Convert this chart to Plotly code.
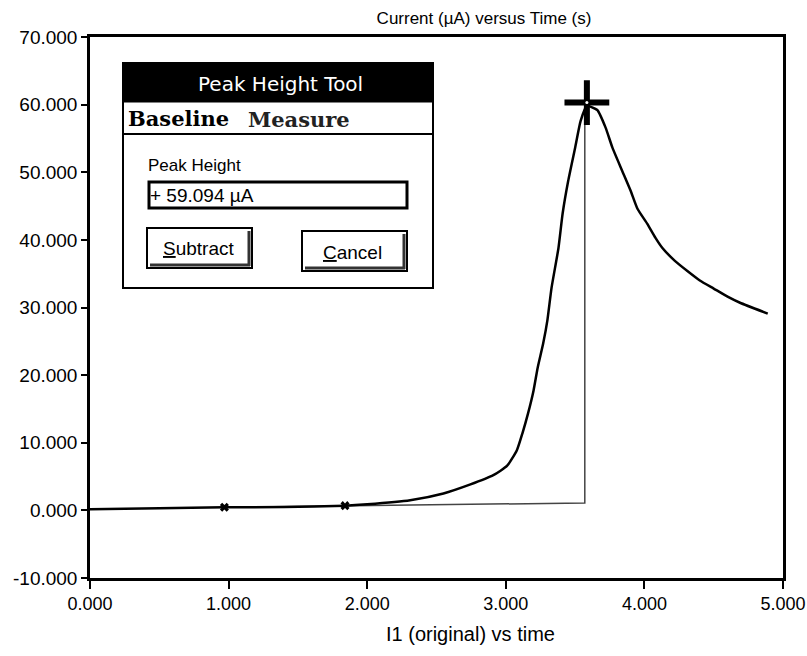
import plotly.graph_objects as go

# ---- data ----
time_s = [0.0, 0.5, 0.97, 1.4, 1.84, 2.0, 2.31, 2.55, 2.74, 2.91, 3.01, 3.08, 3.12, 3.16,
          3.20, 3.23, 3.27, 3.30, 3.33, 3.38, 3.41, 3.45, 3.50, 3.54, 3.585, 3.66, 3.72,
          3.77, 3.84, 3.90, 3.95, 4.02, 4.08, 4.13, 4.22, 4.31, 4.40, 4.50, 4.60, 4.69,
          4.89]
current_uA = [0.15, 0.3, 0.45, 0.5, 0.7, 0.9, 1.5, 2.5, 3.8, 5.2, 6.6, 8.9, 11.4, 14.3,
              17.7, 21.1, 24.7, 28.1, 32.9, 38.8, 43.9, 48.7, 53.6, 57.6, 59.8, 59.2, 56.6,
              53.6, 50.2, 47.3, 44.6, 42.4, 40.3, 38.8, 36.9, 35.4, 34.0, 32.8, 31.6, 30.7,
              29.1]

baseline_pts_x = [0.97, 1.84]
baseline_pts_y = [0.45, 0.7]

baseline_x = [0.97, 1.84, 3.57, 3.57]
baseline_y = [0.45, 0.7, 1.1, 60.2]

peak_x = [3.585]
peak_y = [60.3]

x_ticks = [0, 1, 2, 3, 4, 5]
y_ticks = [-10, 0, 10, 20, 30, 40, 50, 60, 70]

title_text = "Current (µA) versus Time (s)"
xaxis_text = "I1 (original) vs time"
peak_value_text = "+ 59.094 µA"

# ---- layout geometry (window pixels); body margin removed via post_script ----
W, H = 807, 656
L, R, T, B = 90, 783, 37, 578


def px(x):
    return (x - L) / (R - L)


def py(y):
    return (B - y) / (B - T)


FONT = "Liberation Sans, Arial, sans-serif"

fig = go.Figure()

fig.add_trace(go.Scatter(x=baseline_x, y=baseline_y, mode="lines",
                         line=dict(color="#444444", width=1.5), hoverinfo="skip"))
fig.add_trace(go.Scatter(x=time_s, y=current_uA, mode="lines",
                         line=dict(color="black", width=2.5, shape="spline",
                                   smoothing=0.5),
                         hoverinfo="skip"))
fig.add_trace(go.Scatter(x=baseline_pts_x, y=baseline_pts_y, mode="markers",
                         marker=dict(symbol="x", size=8, color="black",
                                     line=dict(width=0)), hoverinfo="skip"))
fig.add_trace(go.Scatter(x=peak_x, y=peak_y, mode="markers",
                         marker=dict(symbol="cross-thin", size=32,
                                     line=dict(width=6, color="black")),
                         hoverinfo="skip"))
fig.add_trace(go.Scatter(x=peak_x, y=peak_y, mode="markers",
                         marker=dict(symbol="circle", size=3, color="white"),
                         hoverinfo="skip"))

shapes = []


def rect(x0, y0, x1, y1, fill="white", lw=2, lc="black"):
    shapes.append(dict(type="rect", xref="paper", yref="paper",
                       x0=px(x0), x1=px(x1), y0=py(y1), y1=py(y0),
                       fillcolor=fill, line=dict(color=lc, width=lw)))


def line(x0, y0, x1, y1, lw=2, lc="black"):
    shapes.append(dict(type="line", xref="paper", yref="paper",
                       x0=px(x0), x1=px(x1), y0=py(y0), y1=py(y1),
                       line=dict(color=lc, width=lw)))


# dialog
rect(123, 63, 433, 288, lw=2)
rect(123, 63, 433, 102, fill="black", lw=1)
line(123, 134, 433, 134, lw=2)
# text box
rect(149, 182, 407, 208, lw=3)
# buttons
rect(147, 228, 252, 268, lw=2)
line(150, 265, 250, 265, lw=3, lc="#333333")
line(249, 231, 249, 266, lw=3, lc="#333333")
rect(302, 231, 407, 271, lw=2)
line(305, 268, 405, 268, lw=3, lc="#333333")
line(404, 234, 404, 269, lw=3, lc="#333333")

annotations = []


def text(x, y, s, size=15, color="black", xanchor="center", family=FONT):
    annotations.append(dict(xref="paper", yref="paper", x=px(x), y=py(y), text=s,
                            showarrow=False, xanchor=xanchor, yanchor="middle",
                            font=dict(family=family, size=size, color=color)))


text(280, 84, "Peak Height Tool", size=20, color="white",
     family="DejaVu Sans, sans-serif")
text(126, 118, "<b>Baseline</b>", size=21, xanchor="left",
     family="DejaVu Serif, serif")
text(246, 119, "<b>Measure</b>", size=21, xanchor="left", color="#222222",
     family="DejaVu Serif, serif")
text(146, 165, "Peak Height", size=17, xanchor="left")
text(148, 195, peak_value_text, size=19, xanchor="left")
text(198, 249, "<u>S</u>ubtract", size=19)
text(352, 252, "<u>C</u>ancel", size=19)
text(470, 634, xaxis_text, size=20)

axis_common = dict(showgrid=False, zeroline=False, showline=True, mirror=True,
                   linecolor="black", linewidth=2.5, ticks="outside",
                   tickcolor="black", tickwidth=1.5, automargin=False)

fig.update_layout(
    width=W, height=H,
    margin=dict(l=L, r=W - R, t=T, b=H - B),
    paper_bgcolor="white", plot_bgcolor="white",
    showlegend=False,
    title=dict(text=title_text, x=484 / W, xanchor="center",
               y=1 - 18 / H, yanchor="middle",
               font=dict(family=FONT, size=17, color="black")),
    xaxis=dict(range=[0, 5], tickvals=x_ticks,
               ticktext=[f"{v:.3f}" for v in x_ticks], ticklen=8,
               tickfont=dict(family=FONT, size=18, color="black"), **axis_common),
    yaxis=dict(range=[-10, 70], tickvals=y_ticks,
               ticktext=[f"{v:.3f}" for v in y_ticks], ticklen=6,
               tickfont=dict(family=FONT, size=19, color="black"), **axis_common),
    shapes=shapes, annotations=annotations,
)

fig.write_html("out.html",
               config={"displayModeBar": False},
               post_script="document.body.style.margin='0px';"
                           "document.body.style.overflow='hidden';")
